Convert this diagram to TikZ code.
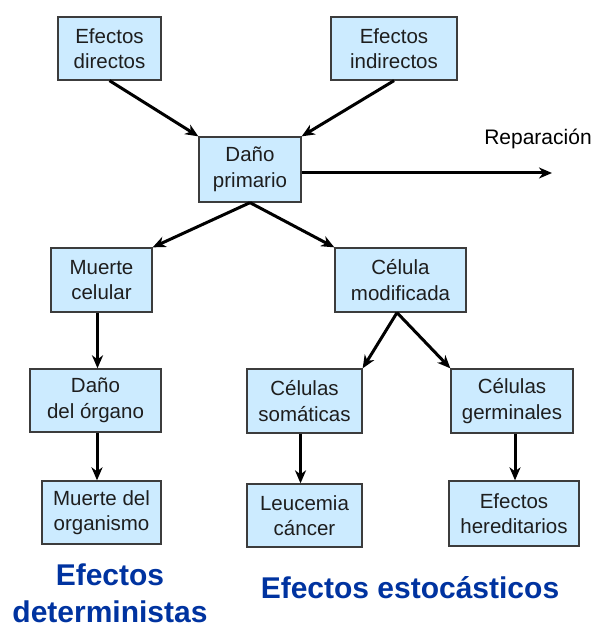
\documentclass[tikz,border=0pt]{standalone}
\usepackage{fontspec}
\setmainfont{Liberation Sans}
\usetikzlibrary{arrows.meta}
\definecolor{boxfill}{RGB}{204,235,255}
\definecolor{boxdraw}{RGB}{60,60,60}
\definecolor{boxtext}{RGB}{30,30,30}
\definecolor{labelblue}{RGB}{0,51,160}
\begin{document}
\begin{tikzpicture}[x=1pt,y=-1pt,
  box/.style={draw=boxdraw, fill=boxfill, line width=1.3pt, text=boxtext, align=center,
    inner xsep=2pt, inner ysep=0pt, font=\fontsize{20.5}{25.5}\selectfont},
  arr/.style={draw=black, line width=3pt, -{Stealth[length=13pt,width=11pt,inset=4pt]}},
  biglabel/.style={text=labelblue, font=\fontsize{30}{37}\selectfont\bfseries, inner sep=0pt, align=center}
]
\useasboundingbox (0,0) rectangle (596,628);

\node[box, minimum width=103pt, minimum height=63pt] (dir) at (109.5,48.5) {Efectos\\directos};
\node[box, minimum width=126pt, minimum height=63pt] (ind) at (394,48.5) {Efectos\\indirectos};
\node[box, minimum width=102pt, minimum height=65pt] (dp) at (250,169.5) {Daño\\primario};
\node[box, minimum width=101pt, minimum height=64pt] (mc) at (101.5,280) {Muerte\\celular};
\node[box, minimum width=131pt, minimum height=64pt] (cm) at (400.5,280) {Célula\\modificada};
\node[box, minimum width=131pt, minimum height=63pt] (do) at (95.5,400.5) {Daño\\del órgano};
\node[box, minimum width=115pt, minimum height=64pt] (cs) at (304.5,401) {Células\\somáticas};
\node[box, minimum width=122pt, minimum height=64pt] (cg) at (512,401) {Células\\germinales};
\node[box, minimum width=119pt, minimum height=63pt] (mo) at (101.5,512.5) {Muerte del\\organismo};
\node[box, minimum width=115pt, minimum height=63pt] (lc) at (304.5,515.5) {Leucemia\\cáncer};
\node[box, minimum width=130pt, minimum height=65pt] (eh) at (514,513.5) {Efectos\\hereditarios};

\node[anchor=base, inner sep=0pt, text=black, font=\fontsize{21}{25}\selectfont] (rep) at (538,145) {Reparación};
\coordinate (repend) at (552,173);

\node[biglabel] (det) at (110,593.5) {Efectos\\deterministas};
\node[biglabel, anchor=base] (est) at (410,598) {Efectos estocásticos};

\draw[arr] (dir.south) -- (dp.north west);
\draw[arr] (ind.south) -- (dp.north east);
\draw[arr] (dp.east |- repend) -- (repend);
\draw[arr] (dp.south) -- (mc.north east);
\draw[arr] (dp.south) -- (cm.north west);
\draw[arr] ([xshift=-4pt]mc.south) -- ([xshift=-4pt]mc.south |- do.north);
\draw[arr] ([xshift=1.5pt]do.south) -- ([xshift=1.5pt]do.south |- mo.north);
\draw[arr] ([xshift=-3.5pt]cm.south) -- (cs.north east);
\draw[arr] ([xshift=-3.5pt]cm.south) -- (cg.north west);
\draw[arr] ([xshift=-4pt]cs.south) -- ([xshift=-4pt]lc.north);
\draw[arr] ([xshift=3pt]cg.south) -- ([xshift=3pt]cg.south |- eh.north);
\end{tikzpicture}
\end{document}
